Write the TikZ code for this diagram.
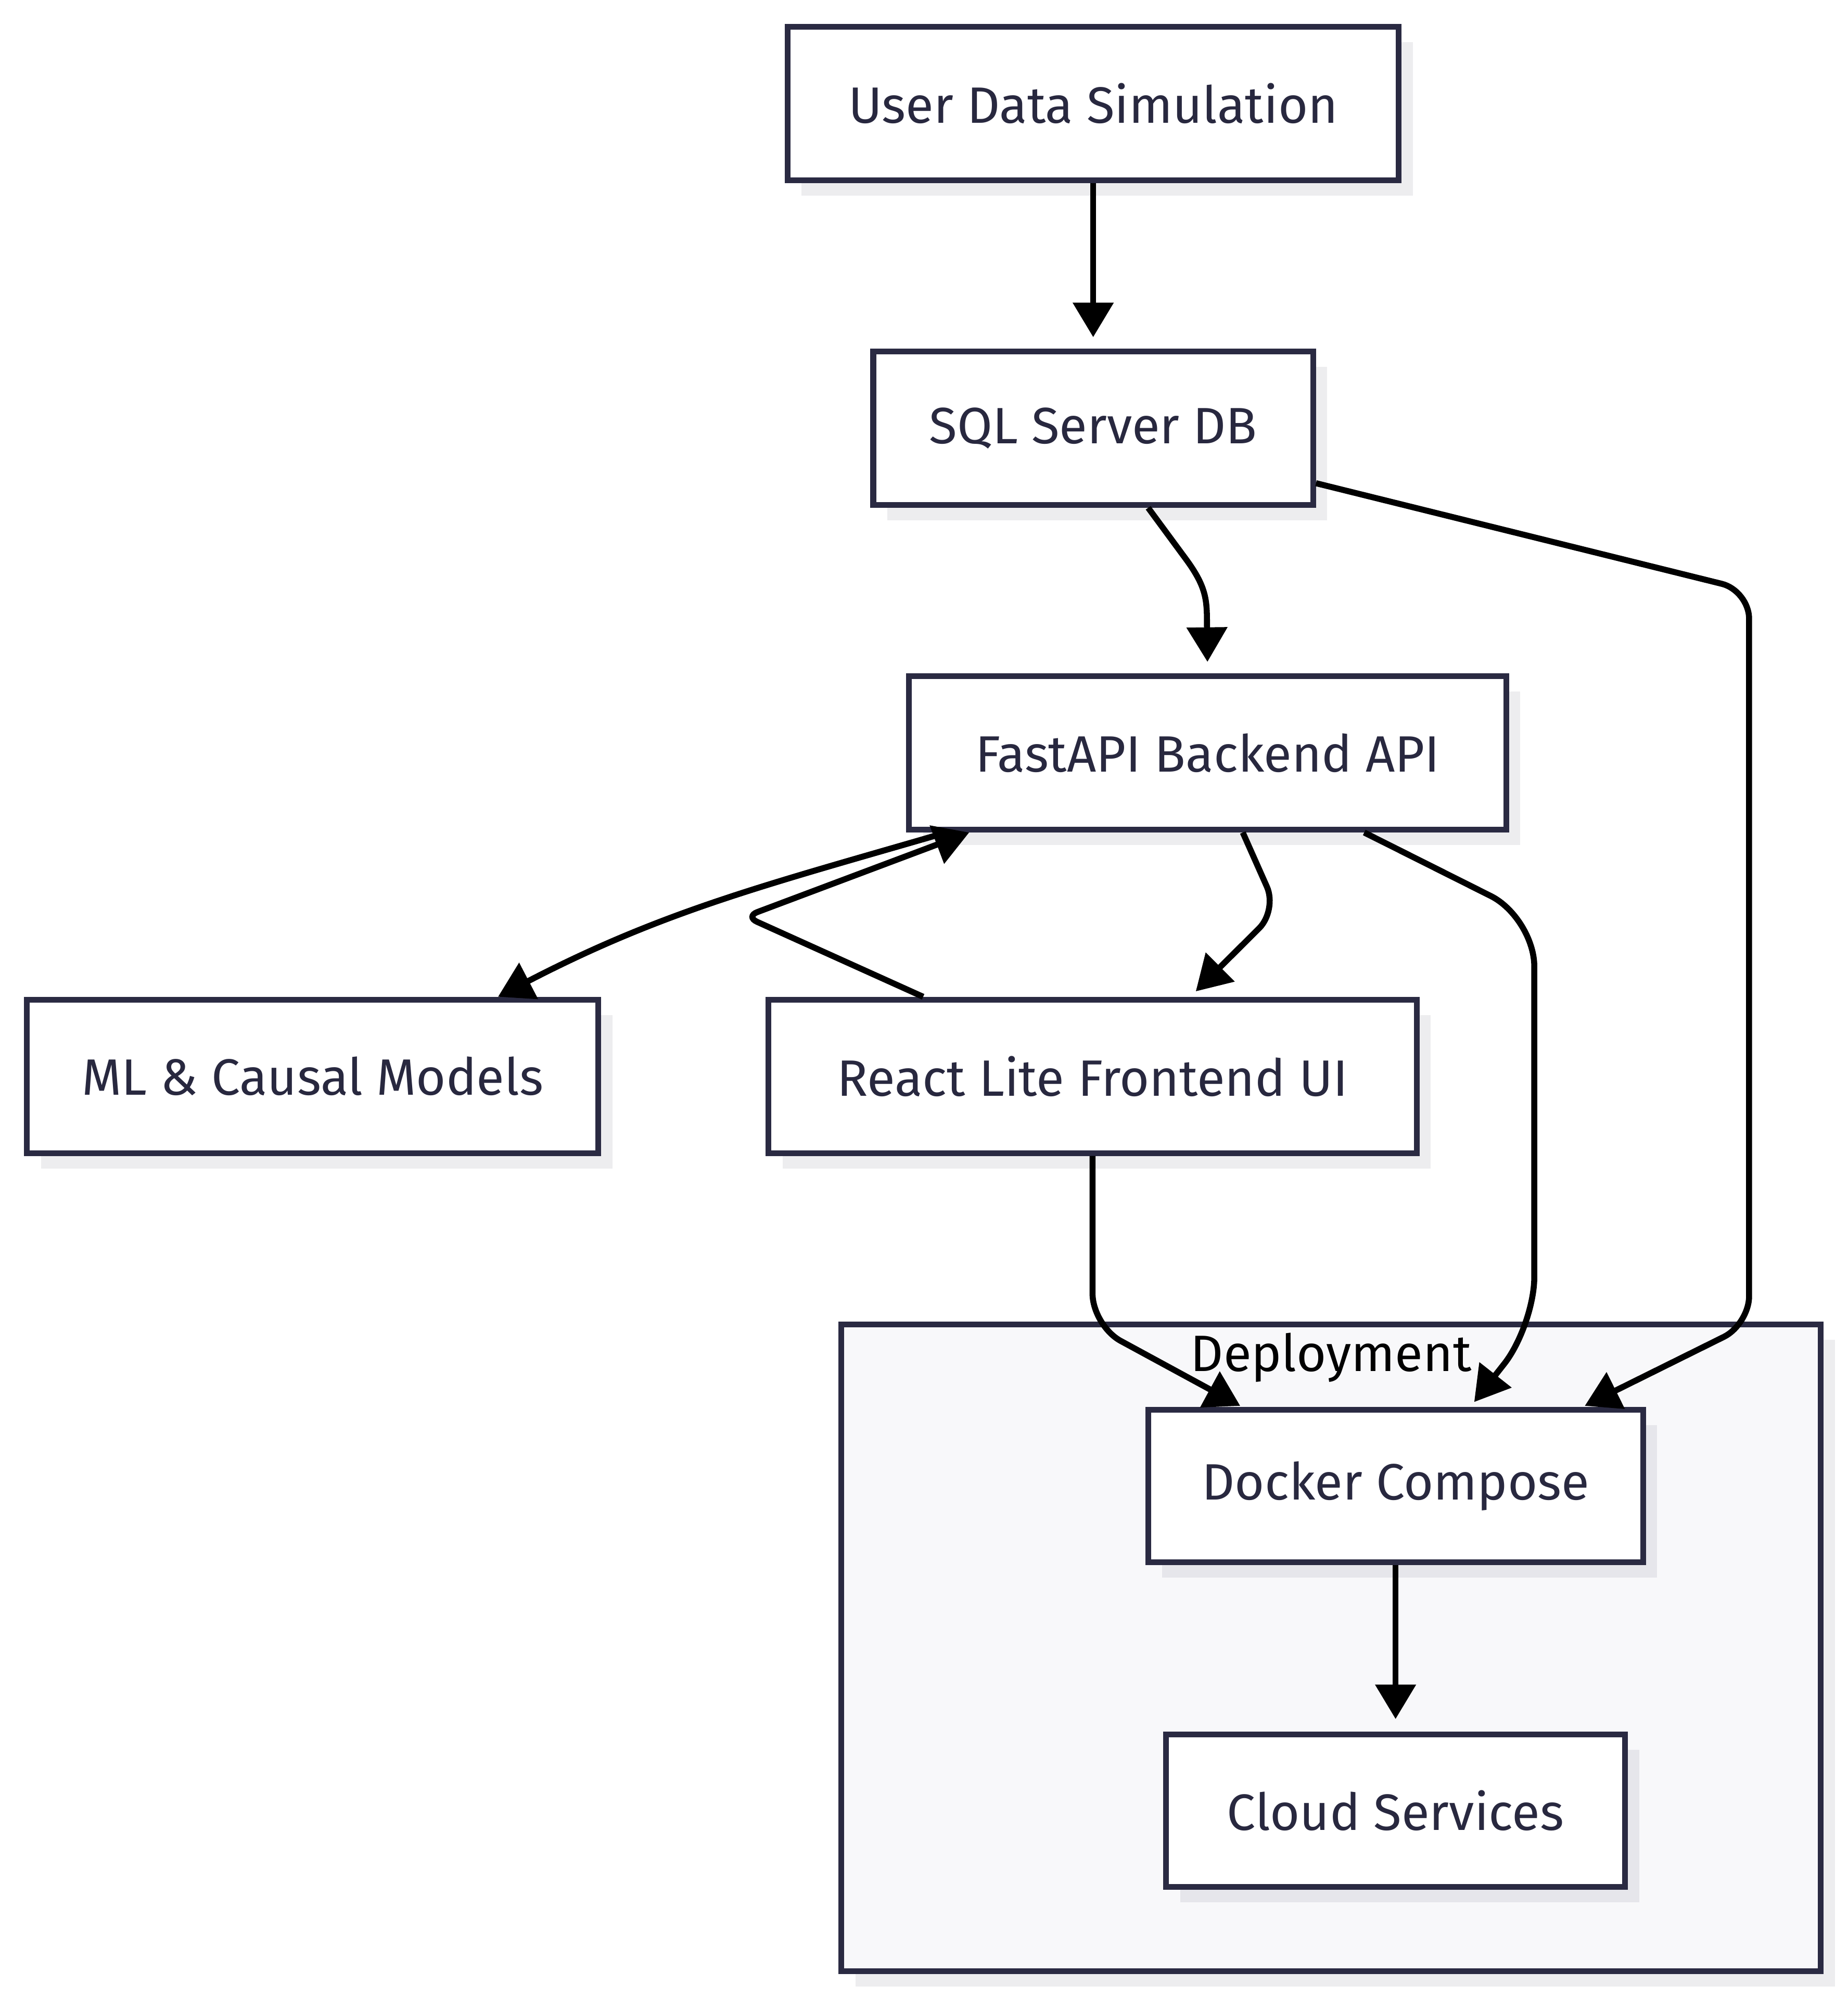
\documentclass[tikz,border=0pt]{standalone}
\usepackage{fontspec}
\setmainfont{Fira Sans}
\usetikzlibrary{arrows.meta,calc,shadows}
\definecolor{boxline}{HTML}{2A2A42}
\definecolor{boxtext}{HTML}{28283F}
\definecolor{clusterfill}{HTML}{F8F8FA}
\definecolor{shadowc}{HTML}{1E1E3C}
\tikzset{
  boxnode/.style={draw=boxline, line width=4.5pt, fill=white, rectangle,
    minimum height=120pt, inner sep=0pt, text=boxtext,
    font=\fontsize{40}{46}\selectfont,
    drop shadow={shadow xshift=11pt, shadow yshift=-12pt, fill=shadowc, opacity=0.08}},
  clusterbox/.style={draw=boxline, line width=4.5pt, fill=clusterfill, rectangle,
    inner sep=0pt,
    drop shadow={shadow xshift=11pt, shadow yshift=-12pt, fill=shadowc, opacity=0.08}},
  arr/.style={draw=black, line width=4.7pt, -{Triangle[length=27pt,width=31pt]}},
}
\begin{document}
\begin{tikzpicture}[x=1pt,y=-1pt]
\useasboundingbox (0,0) rectangle (1445,1563);
\fill[white] (0,0) rectangle (1445,1563);
% cluster
\node[clusterbox, minimum width=766pt, minimum height=506pt] (dep) at (1041,1289) {};
\node[font=\fontsize{40}{46}\selectfont, text=black, anchor=center] (deplabel) at (1041,1062) {Deployment};
% nodes
\node[boxnode, minimum width=478pt] (uds) at (855,81) {User Data Simulation};
\node[boxnode, minimum width=344pt] (sql) at (855,335) {SQL Server DB};
\node[boxnode, minimum width=467pt] (api) at (944.5,589) {FastAPI Backend API};
\node[boxnode, minimum width=447pt] (ml) at (244.5,842) {ML \& Causal Models};
\node[boxnode, minimum width=507pt] (ui) at (854.5,842) {React Lite Frontend UI};
\node[boxnode, minimum width=387pt, minimum height=119pt] (dock) at (1091.5,1162.5) {Docker Compose};
\node[boxnode, minimum width=359pt, minimum height=119pt] (cloud) at (1091.5,1416.5) {Cloud Services};
% edges
\draw[arr, shorten >=9pt] (uds.south) -- (sql.north);
\draw[arr, shorten >=9pt] ($(sql.south)+(43,0)$) -- (928,438) .. controls (944,460) and (944,470) .. (944,490) -- (api.north);
\draw[arr, rounded corners=22pt] ($(sql.east)+(0,43)$) -- (1368,462) -- (1368,1036) -- ($(dock.north)+(148,-1)$);
\draw[arr] ($(api.south)+(-204.5,0)$) .. controls (600,692) and (520,712) .. ($(ml.north)+(145,0)$);
\draw[arr, rounded corners=10pt] ($(ui.north)+(-132.5,0)$) -- (583,717) -- ($(api.south)+(-186.5,0)$);
\draw[arr, rounded corners=20pt, shorten >=6pt] ($(api.south)+(27.5,0)$) -- (999,712) -- ($(ui.north)+(76.5,0)$);
\draw[arr, rounded corners=38pt] ($(api.south)+(122.5,0)$) -- (1200,718) -- (1200,1037) -- ($(dock.north)+(61.5,-4)$);
\draw[arr, rounded corners=25pt] (ui.south) -- (854.5,1037) -- ($(dock.north)+(-121.5,-1)$);
\draw[arr, shorten >=10pt] (dock.south) -- (cloud.north);
\end{tikzpicture}
\end{document}
